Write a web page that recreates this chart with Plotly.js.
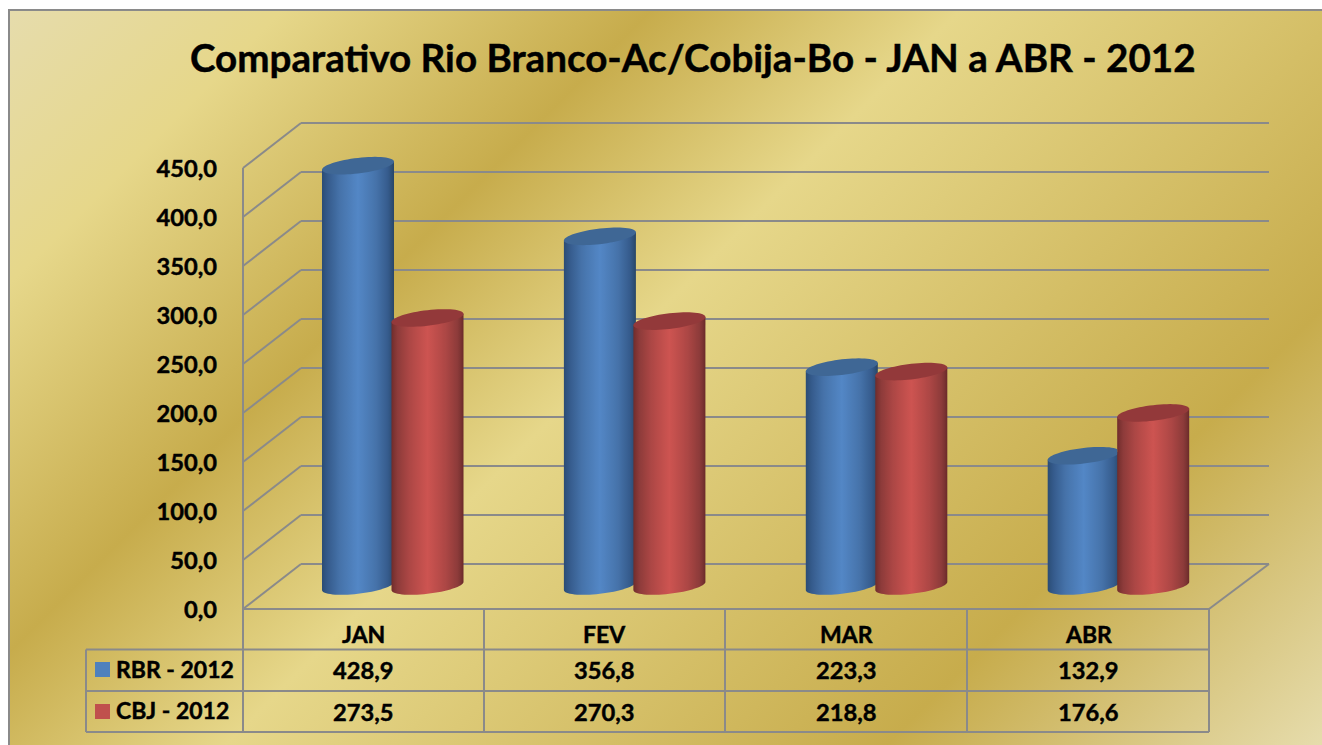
<!DOCTYPE html>
<html lang="pt">
<head>
<meta charset="utf-8">
<title>Comparativo Rio Branco-Ac/Cobija-Bo</title>
<script src="https://cdn.plot.ly/plotly-3.0.1.min.js"></script>
<style>
html,body{margin:0;padding:0;width:1322px;height:745px;overflow:hidden;background:#fff}
#frame{position:absolute;left:8px;top:9px;width:1316px;height:738px;box-sizing:border-box;border:2px solid #8a8a8a;
background:linear-gradient(135deg,#e6dcac 0%,#e6d78a 13.3%,#c7ac4c 31.3%,#e6d78a 46.4%,#c7ac4c 78.7%,#e6dcac 100%)}
#chart{position:absolute;left:0;top:0;width:1322px;height:745px}
#chart text{stroke:#000;stroke-width:.45px}
</style>
</head>
<body>
<div id="frame"></div>
<div id="chart"></div>
<script>
const categories = ["JAN", "FEV", "MAR", "ABR"];
const rbrName = "RBR - 2012";
const cbjName = "CBJ - 2012";
const rbrValues = [428.9, 356.8, 223.3, 132.9];
const cbjValues = [273.5, 270.3, 218.8, 176.6];
const yTicks = [0, 50, 100, 150, 200, 250, 300, 350, 400, 450];
const titleText = "Comparativo Rio Branco-Ac/Cobija-Bo - JAN a ABR - 2012";

const fmt = v => v.toFixed(1).replace(".", ",");
const FONT = "Lato, 'Open Sans', sans-serif";
const GREY = "#8a8a8a";

// Plot frame, in page pixels
const L = 243, R = 1269, T = 123, B = 609;
const W = R - L, H = B - T;
const PX_PER_UNIT = 0.98, PX_PER_CAT = 241.9;
const FIRST_BOUNDARY = 392;
const xLo = -(FIRST_BOUNDARY - L) / PX_PER_CAT;
const xRange = [xLo, xLo + W / PX_PER_CAT];
const yRange = [0, H / PX_PER_UNIT];
const DEPTH_X = 58, DEPTH_Y = 45;       // 3D wall offset
const FLOOR_PX = 23;                    // cylinder base lift
const BASE = FLOOR_PX / PX_PER_UNIT;

const px = x => (x - L) / W;            // page px -> paper
const py = y => (B - y) / H;
const line = (x0, y0, x1, y1) => ({
  type: "line", xref: "paper", yref: "paper", layer: "below",
  x0: px(x0), y0: py(y0), x1: px(x1), y1: py(y1),
  line: { color: GREY, width: 2 }
});

const shapes = [];
// Walls and floor
yTicks.forEach(t => {
  const yf = B - t * PX_PER_UNIT;
  const yb = yf - DEPTH_Y;
  shapes.push(line(L, yf, L + DEPTH_X, yb));
  shapes.push(line(L + DEPTH_X, yb, R, yb));
});
shapes.push(line(L, B, L, B - yTicks[yTicks.length - 1] * PX_PER_UNIT));
shapes.push(line(1209, B, R, B - DEPTH_Y));

// Table grid
const ROWS = [609, 649.5, 691, 732];
const COLS = [243, 484, 725, 967, 1209];
shapes.push(line(243, ROWS[0], 1209, ROWS[0]));
shapes.push(line(86, ROWS[1], 1209, ROWS[1]));
shapes.push(line(86, ROWS[2], 1209, ROWS[2]));
shapes.push(line(86, ROWS[3], 1209, ROWS[3]));
shapes.push(line(86, ROWS[1], 86, ROWS[3]));
COLS.forEach(c => shapes.push(line(c, ROWS[0], c, ROWS[3])));

// Legend keys
const key = (y, color) => ({
  type: "rect", xref: "paper", yref: "paper", layer: "below",
  x0: px(95), x1: px(110), y0: py(y), y1: py(y + 15),
  fillcolor: color, line: { width: 0 }
});
shapes.push(key(662, "#4f81bd"));
shapes.push(key(704, "#c0504d"));

// Cylinders dressing: silhouette + top cap, derived from the values
const A = 36, C = 7.8, TILT = 4.1;      // half width, half minor axis, half tilt (px)
const toX = (i, dx) => i + dx / PX_PER_CAT;
const toY = (v, dy) => v + BASE - dy / PX_PER_UNIT;  // dy positive = downwards on screen
function ellipsePoint(t) {
  const c = Math.cos(t), s = Math.sin(t);
  return [A * c, -TILT * c + C * s];
}
const silhouetteIdx = { blue: [], red: [] };
function cylinder(i, v, centerPx, series, clampRight) {
  const pts = [];
  const first = ellipsePoint(Math.PI);
  pts.push([first[0], first[1], v]);
  const last = ellipsePoint(0);
  pts.push([last[0], last[1], v]);
  for (let k = 0; k <= 32; k++) {
    const p = ellipsePoint(k / 32 * Math.PI);
    pts.push([p[0], p[1], 0]);
  }
  const d = pts.map((p, n) =>
    (n ? "L" : "M") + toX(i, centerPx + p[0]).toFixed(4) + "," + toY(p[2], p[1]).toFixed(3)
  ).join(" ") + " Z";
  silhouetteIdx[series].push(shapes.length);
  shapes.push({ type: "path", xref: "x", yref: "y", layer: "below", path: d,
    fillcolor: series === "blue" ? "#4f81bd" : "#c0504d", line: { width: 0 } });

  const cap = [];
  for (let k = 0; k < 64; k++) {
    const p = ellipsePoint(k / 64 * 2 * Math.PI);
    let xp = centerPx + p[0];
    if (clampRight !== null && xp > clampRight) xp = clampRight;
    cap.push((k ? "L" : "M") + toX(i, xp).toFixed(4) + "," + toY(v, p[1]).toFixed(3));
  }
  return { type: "path", xref: "x", yref: "y", layer: "above", path: cap.join(" ") + " Z",
    fillcolor: series === "blue" ? "#3f6795" : "#93393a", line: { width: 0 } };
}
const BLUE_C = -34, RED_C = 35.5;
categories.forEach((c, i) => {
  const b = cylinder(i, rbrValues[i], BLUE_C, "blue", rbrValues[i] < cbjValues[i] ? RED_C - A : null);
  shapes.push(b);
  const r = cylinder(i, cbjValues[i], RED_C, "red", null);
  shapes.push(r);
});

// Data table and legend text
const label = (x, y, text, anchor, size) => ({
  xref: "paper", yref: "paper", x: px(x), y: py(y), text,
  showarrow: false, xanchor: anchor || "center", yanchor: "middle",
  font: { family: FONT, size: size || 23.7, color: "#000", weight: 700 }
});
const annotations = [];
const colCenter = i => (COLS[i] + COLS[i + 1]) / 2;
categories.forEach((c, i) => {
  annotations.push(label(colCenter(i), 634, c, "center", 23));
  annotations.push(label(colCenter(i), 669.5, fmt(rbrValues[i])));
  annotations.push(label(colCenter(i), 711.5, fmt(cbjValues[i])));
});
annotations.push(label(114, 668.5, rbrName, "left", 23));
annotations.push(label(114, 710, cbjName, "left", 23));

const INNER = 55 / PX_PER_CAT;
const traces = [
  { type: "bar", name: rbrName, x: categories, y: rbrValues,
    base: categories.map(() => BASE), width: INNER, offset: (BLUE_C - 27.5) / PX_PER_CAT,
    marker: { color: "#4f81bd", line: { width: 0 } }, showlegend: false },
  { type: "bar", name: cbjName, x: categories, y: cbjValues,
    base: categories.map(() => BASE), width: INNER, offset: (RED_C - 27.5) / PX_PER_CAT,
    marker: { color: "#c0504d", line: { width: 0 } }, showlegend: false }
];

const layout = {
  width: 1322, height: 745,
  margin: { l: L, r: 1322 - R, t: T, b: 745 - B, pad: 0 },
  paper_bgcolor: "rgba(0,0,0,0)", plot_bgcolor: "rgba(0,0,0,0)",
  separators: ",.",
  barmode: "overlay",
  showlegend: false,
  title: { text: titleText, x: 0.524, xanchor: "center", y: 0.921, yanchor: "middle",
    font: { family: FONT, size: 38.6, color: "#000", weight: 700 } },
  xaxis: { type: "category", categoryorder: "array", categoryarray: categories,
    range: xRange, showgrid: false, zeroline: false, showline: false,
    showticklabels: false, ticks: "" },
  yaxis: { range: yRange, tickmode: "array", tickvals: yTicks, ticktext: yTicks.map(fmt),
    showgrid: false, zeroline: false, showline: false, ticks: "", ticklabelstandoff: 25,
    ticklabelshift: 1,
    tickfont: { family: FONT, size: 23.7, color: "#000", weight: 700 } },
  shapes, annotations
};

// Cylinder shading
const BLUE_STOPS = [[0, "#2b4c74"], [.07, "#34598a"], [.25, "#4673aa"], [.5, "#5387c6"], [.75, "#4673aa"], [.93, "#34598a"], [1, "#284666"]];
const RED_STOPS = [[0, "#6f2c2b"], [.07, "#8a3a39"], [.25, "#ad4745"], [.5, "#cd5451"], [.75, "#ad4745"], [.93, "#8a3a39"], [1, "#6a2a29"]];
function hex(c) { return [1, 3, 5].map(n => parseInt(c.substr(n, 2), 16)); }
function sample(stops, t) {
  for (let k = 1; k < stops.length; k++) {
    if (t <= stops[k][0]) {
      const f = (t - stops[k - 1][0]) / (stops[k][0] - stops[k - 1][0]);
      const a = hex(stops[k - 1][1]), b = hex(stops[k][1]);
      return "rgb(" + a.map((v, n) => Math.round(v + (b[n] - v) * f)).join(",") + ")";
    }
  }
  return stops[stops.length - 1][1];
}
function addGradient(svg, id, stops, from, to) {
  const NS = "http://www.w3.org/2000/svg";
  const g = document.createElementNS(NS, "linearGradient");
  g.setAttribute("id", id);
  g.setAttribute("x1", "0"); g.setAttribute("x2", "1");
  g.setAttribute("y1", "0"); g.setAttribute("y2", "0");
  for (let k = 0; k <= 24; k++) {
    const s = document.createElementNS(NS, "stop");
    s.setAttribute("offset", k / 24);
    s.setAttribute("stop-color", sample(stops, from + (to - from) * k / 24));
    g.appendChild(s);
  }
  svg.querySelector("defs").appendChild(g);
}

Plotly.newPlot("chart", traces, layout, { displayModeBar: false }).then(gd => {
  const svg = gd.querySelector("svg.main-svg");
  const inset = (A * 2 - 55) / 2 / (A * 2);
  addGradient(svg, "cylBlue", BLUE_STOPS, 0, 1);
  addGradient(svg, "cylRed", RED_STOPS, 0, 1);
  addGradient(svg, "barBlue", BLUE_STOPS, inset, 1 - inset);
  addGradient(svg, "barRed", RED_STOPS, inset, 1 - inset);
  const fill = (idx, id) => idx.forEach(n => {
    const el = gd.querySelector('.shapelayer path[data-index="' + n + '"]');
    if (el) el.style.fill = "url(#" + id + ")";
  });
  fill(silhouetteIdx.blue, "cylBlue");
  fill(silhouetteIdx.red, "cylRed");
  gd.querySelectorAll(".barlayer .trace").forEach((tr, n) => {
    tr.querySelectorAll(".point path").forEach(p => {
      p.style.fill = "url(#" + (n === 0 ? "barBlue" : "barRed") + ")";
    });
  });
});
</script>
</body>
</html>
